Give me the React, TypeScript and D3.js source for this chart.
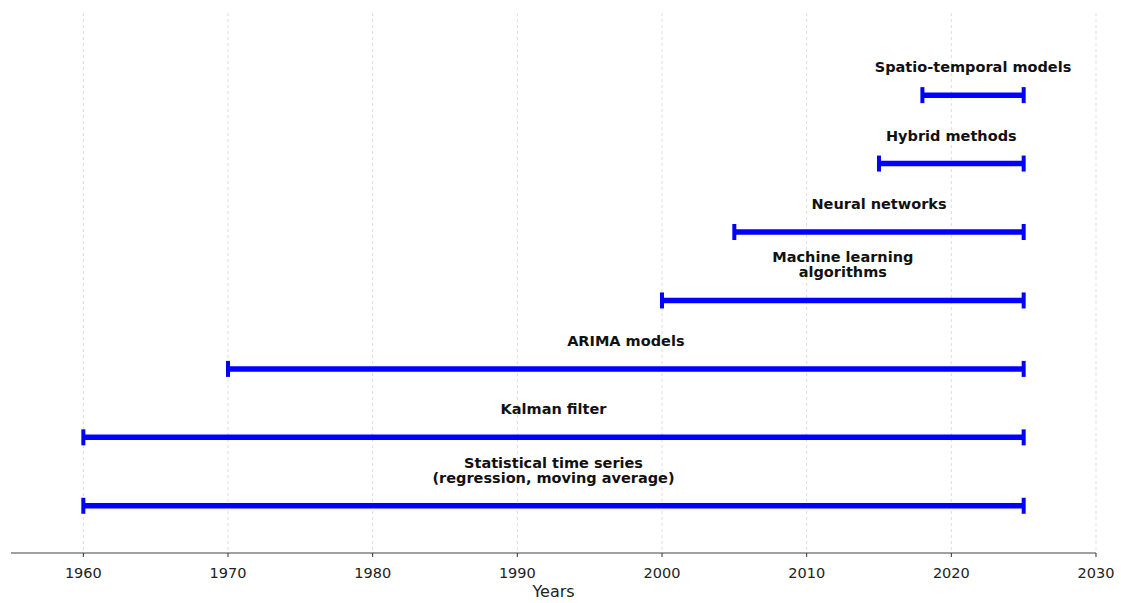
import * as d3 from 'd3'

const methods = [
  'Statistical time series\n(regression, moving average)',
  'Kalman filter',
  'ARIMA models',
  'Machine learning\nalgorithms',
  'Neural networks',
  'Hybrid methods',
  'Spatio-temporal models',
]
const startYears = [1960, 1960, 1970, 2000, 2005, 2015, 2018]
const endYears = [2025, 2025, 2025, 2025, 2025, 2025, 2025]
const xTicks = [1960, 1970, 1980, 1990, 2000, 2010, 2020, 2030]

const W = 1121
const H = 603
const BLUE = '#0000ff'
const FONT = '"DejaVu Sans", sans-serif'

export default function App() {
  const x = d3.scaleLinear().domain([1955, 2030]).range([11, 1096])
  const y = d3.scaleLinear().domain([-0.69, 7.2]).range([553, 13])
  const axisY = y(-0.69)
  const capH = 8

  return (
    <svg width={W} height={H} style={{ position: 'absolute', left: 0, top: 0, background: '#fff' }}>
      {xTicks.map((t) => (
        <line key={'g' + t} x1={x(t)} x2={x(t)} y1={13} y2={axisY}
          stroke="#dddddd" strokeWidth={1} strokeDasharray="3,3" />
      ))}
      {methods.map((m, i) => {
        const cy = y(i)
        const x0 = x(startYears[i])
        const x1 = x(endYears[i])
        const mid = x((startYears[i] + endYears[i]) / 2)
        const lines = m.split('\n')
        return (
          <g key={m}>
            <line x1={x0} x2={x1} y1={cy} y2={cy} stroke={BLUE} strokeWidth={5.5} />
            <line x1={x0} x2={x0} y1={cy - capH} y2={cy + capH} stroke={BLUE} strokeWidth={4} />
            <line x1={x1} x2={x1} y1={cy - capH} y2={cy + capH} stroke={BLUE} strokeWidth={4} />
            {lines.map((ln, j) => (
              <text key={j} x={mid} y={cy - 23 - (lines.length - 1 - j) * 15}
                textAnchor="middle" fontFamily={FONT} fontWeight="bold" fontSize={14.5} fill="#111">
                {ln}
              </text>
            ))}
          </g>
        )
      })}
      <line x1={11} x2={1096} y1={axisY} y2={axisY} stroke="#808080" strokeWidth={1.5} />
      {xTicks.map((t) => (
        <g key={'t' + t}>
          <line x1={x(t)} x2={x(t)} y1={axisY} y2={axisY + 4} stroke="#333" strokeWidth={1} />
          <text x={x(t)} y={578} textAnchor="middle" fontFamily={FONT} fontSize={14.5} fill="#222">
            {t}
          </text>
        </g>
      ))}
      <text x={x(1992.5)} y={597} textAnchor="middle" fontFamily={FONT} fontSize={16} fill="#222">
        Years
      </text>
    </svg>
  )
}
